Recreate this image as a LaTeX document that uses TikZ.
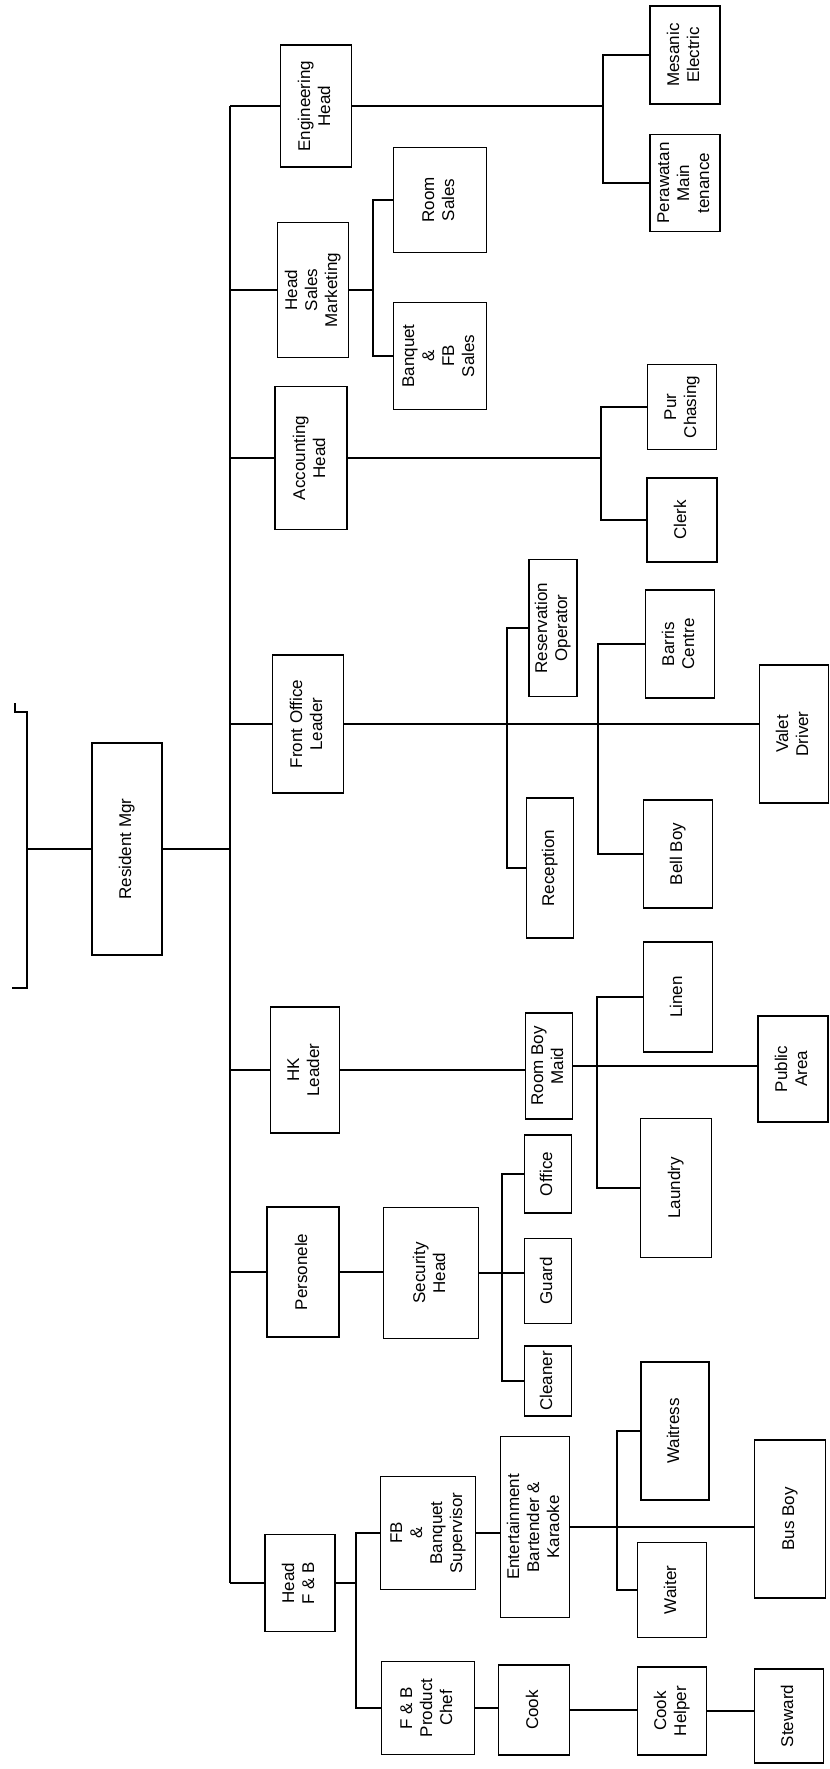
\documentclass[tikz,border=0pt]{standalone}
\usepackage{fontspec}
\setmainfont{Liberation Sans}
\usepackage{graphicx}
\usepackage{tikz}
\newcommand{\vtext}[1]{\rotatebox{90}{\begin{tabular}{@{}c@{}}#1\end{tabular}}}
\tikzset{
  box/.style={draw, line width=0.9pt, inner sep=0pt, font=\fontsize{8.5}{10}\selectfont},
  wh/.style 2 args={minimum width=#1*0.5pt, minimum height=#2*0.5pt},
}
\begin{document}
\begin{tikzpicture}[x=0.5pt, y=-0.5pt, line width=0.9pt]
\useasboundingbox (0,0) rectangle (830,1769);

\node[box, wh={70}{212}] (resmgr) at (127,849) {\vtext{Resident Mgr}};

\node[box, wh={71}{122}] (eng) at (316,106) {\vtext{Engineering\\Head}};
\node[box, wh={71}{135}] (hsm) at (313,290) {\vtext{Head\\Sales\\Marketing}};
\node[box, wh={72}{143}] (acc) at (311,458) {\vtext{Accounting\\Head}};
\node[box, wh={71}{138}] (fol) at (308,724) {\vtext{Front Office\\Leader}};
\node[box, wh={69}{126}] (hk) at (305,1070) {\vtext{HK\\Leader}};
\node[box, wh={72}{130}] (pers) at (303,1272) {\vtext{Personele}};
\node[box, wh={70}{97}] (hfb) at (300,1583) {\vtext{Head\\F \& B}};

\node[box, wh={70}{98}] (mesanic) at (685,55) {\vtext{Mesanic\\Electric}};
\node[box, wh={70}{97}] (perawatan) at (685,183) {\vtext{Perawatan\\Main\\tenance}};
\node[box, wh={93}{105}] (roomsales) at (440,200) {\vtext{Room\\Sales}};
\node[box, wh={93}{107}] (banqsales) at (440,356) {\vtext{Banquet\\\&\\FB\\Sales}};
\node[box, wh={69}{85}] (purch) at (682,407) {\vtext{Pur\\Chasing}};
\node[box, wh={70}{84}] (clerk) at (682,520) {\vtext{Clerk}};

\node[box, wh={48}{137}] (resop) at (553,628) {\vtext{Reservation\\Operator}};
\node[box, wh={47}{140}] (reception) at (550,868) {\vtext{Reception}};
\node[box, wh={69}{108}] (barris) at (680,644) {\vtext{Barris\\Centre}};
\node[box, wh={69}{108}] (bellboy) at (678,854) {\vtext{Bell Boy}};
\node[box, wh={69}{138}] (valet) at (794,734) {\vtext{Valet\\Driver}};

\node[box, wh={47}{106}] (rbm) at (549,1066) {\vtext{Room Boy\\Maid}};
\node[box, wh={69}{110}] (linen) at (678,997) {\vtext{Linen}};
\node[box, wh={71}{139}] (laundry) at (676,1188) {\vtext{Laundry}};
\node[box, wh={70}{106}] (public) at (793,1069) {\vtext{Public\\Area}};

\node[box, wh={95}{131}] (sechead) at (431,1273) {\vtext{Security\\Head}};
\node[box, wh={47}{78}] (office) at (548,1174) {\vtext{Office}};
\node[box, wh={47}{85}] (guard) at (548,1281) {\vtext{Guard}};
\node[box, wh={47}{70}] (cleaner) at (548,1381) {\vtext{Cleaner}};

\node[box, wh={95}{113}] (fbsup) at (428,1533) {\vtext{FB\\\&\\Banquet\\Supervisor}};
\node[box, wh={93}{93}] (chef) at (428,1708) {\vtext{F \& B\\Product\\Chef}};
\node[box, wh={69}{181}] (ent) at (535,1527) {\vtext{Entertainment\\Bartender \&\\Karaoke}};
\node[box, wh={71}{90}] (cook) at (534,1710) {\vtext{Cook}};
\node[box, wh={68}{138}] (waitress) at (675,1431) {\vtext{Waitress}};
\node[box, wh={69}{95}] (waiter) at (672,1590) {\vtext{Waiter}};
\node[box, wh={69}{88}] (helper) at (672,1711) {\vtext{Cook\\Helper}};
\node[box, wh={71}{158}] (busboy) at (790,1519) {\vtext{Bus Boy}};
\node[box, wh={69}{94}] (steward) at (789,1716) {\vtext{Steward}};

\coordinate (lt) at (27,712);
\coordinate (lb) at (27,988);
\coordinate (tr) at (230,0);
\coordinate (sb) at (373,0);
\coordinate (eb) at (603,0);
\coordinate (ab) at (601,0);
\coordinate (rb) at (507,0);
\coordinate (bb) at (598,0);
\coordinate (lnb) at (597,0);
\coordinate (gb) at (502,0);
\coordinate (fb) at (356,0);
\coordinate (wb) at (617,0);

\draw (15,703) -- (15,712) -- (lt) -- (lb) -- (12,988);
\draw (resmgr.west) -- (resmgr.west -| lt);
\draw (resmgr.east) -- (resmgr.east -| tr);
\draw (eng.west -| tr) -- (hfb.west -| tr);
\foreach \n in {eng,hsm,acc,fol,hk,pers,hfb}
  \draw (\n.west -| tr) -- (\n.west);

\draw (eng.east) -- (eng.east -| eb);
\draw (mesanic.west) -- (mesanic.west -| eb) -- (perawatan.west -| eb) -- (perawatan.west);

\draw (hsm.east) -- (hsm.east -| sb);
\draw (roomsales.west) -- (roomsales.west -| sb) -- (banqsales.west -| sb) -- (banqsales.west);

\draw (acc.east) -- (acc.east -| ab);
\draw (purch.west) -- (purch.west -| ab) -- (clerk.west -| ab) -- (clerk.west);

\draw (fol.east) -- (fol.east -| valet.west);
\draw (resop.west) -- (resop.west -| rb) -- (reception.west -| rb) -- (reception.west);
\draw (barris.west) -- (barris.west -| bb) -- (bellboy.west -| bb) -- (bellboy.west);

\draw (hk.east) -- (hk.east -| rbm.west);
\draw (rbm.east) -- (rbm.east -| public.west);
\draw (linen.west) -- (linen.west -| lnb) -- (laundry.west -| lnb) -- (laundry.west);

\draw (pers.east) -- (pers.east -| sechead.west);
\draw (sechead.east) -- (sechead.east -| guard.west);
\draw (office.west) -- (office.west -| gb) -- (cleaner.west -| gb) -- (cleaner.west);

\draw (hfb.east) -- (hfb.east -| fb);
\draw (fbsup.west) -- (fbsup.west -| fb) -- (chef.west -| fb) -- (chef.west);
\draw (fbsup.east) -- (fbsup.east -| ent.west);
\draw (ent.east) -- (ent.east -| busboy.west);
\draw (waitress.west) -- (waitress.west -| wb) -- (waiter.west -| wb) -- (waiter.west);
\draw (chef.east) -- (chef.east -| cook.west);
\draw (cook.east) -- (cook.east -| helper.west);
\draw (helper.east) -- (helper.east -| steward.west);
\end{tikzpicture}
\end{document}
